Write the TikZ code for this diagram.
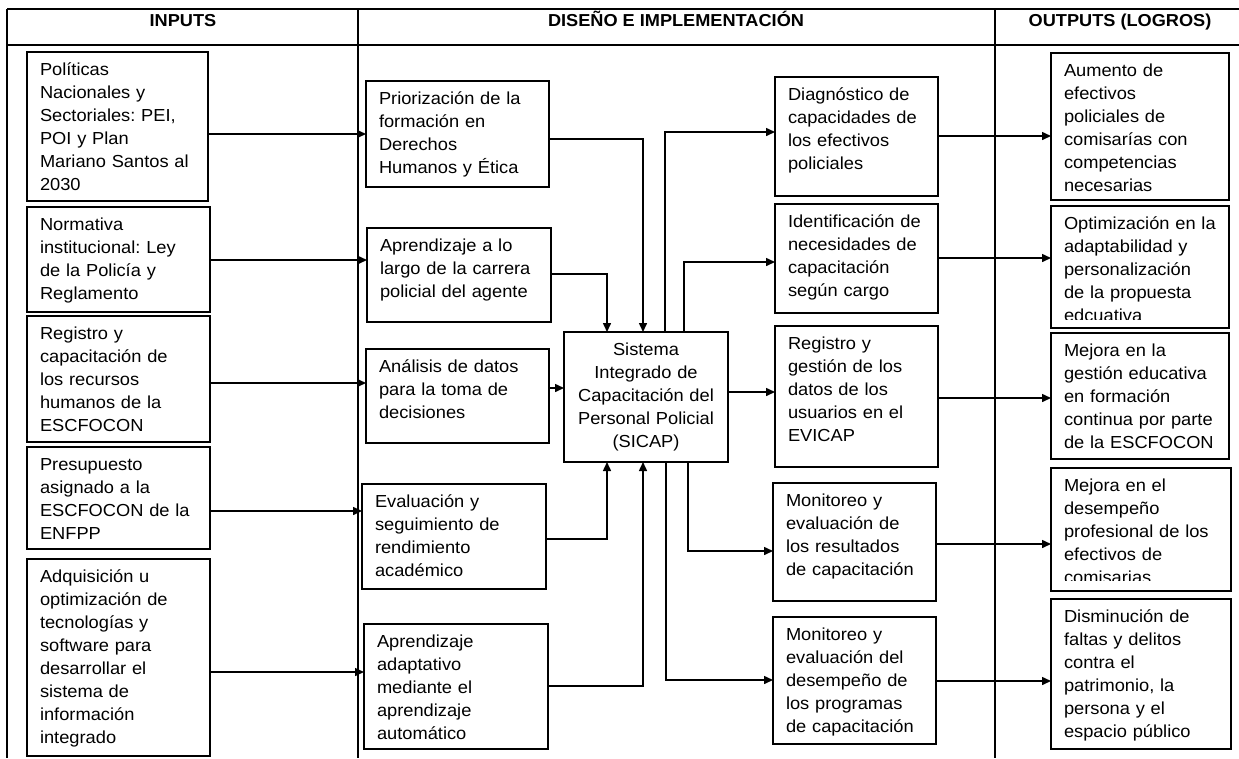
\documentclass[tikz,border=0pt]{standalone}
\usepackage{fontspec}
\setmainfont{Liberation Sans}[FakeStretch=1.05]
\usetikzlibrary{arrows.meta}
\frenchspacing
\tikzset{
  box/.style={draw=black, line width=1.6pt, inner sep=0pt, outer sep=0pt, fill=none},
  txt/.style={anchor=base west, align=left, text width=200pt, inner sep=0pt, outer sep=0pt,
              font=\frenchspacing\fontsize{17.4}{23}\selectfont, text=black},
  head/.style={anchor=base, inner sep=0pt, font=\bfseries\fontsize{17.3}{20}\selectfont, text=black},
  frame/.style={line width=1.8pt, draw=black},
  arr/.style={line width=1.5pt, -{Triangle[length=9pt,width=8pt]}},
}
\newcommand\mybox[6]{%
  \node[box, anchor=north west, minimum width={(#4-#2)*1pt}, minimum height={(#5-#3)*1pt}] (#1) at (#2,#3) {};
  \node[txt] (#1t) at ([xshift=13pt,yshift=-23pt]#1.north west) {#6};
}
\newcommand\myclipbox[7]{%
  \node[box, anchor=north west, minimum width={(#4-#2)*1pt}, minimum height={(#5-#3)*1pt}] (#1) at (#2,#3) {};
  \begin{scope}
    \clip (#2,#3) rectangle (#4,{#5-#7});
    \node[txt] (#1t) at ([xshift=13pt,yshift=-23pt]#1.north west) {#6};
  \end{scope}
}
\begin{document}
\begin{tikzpicture}[x=1pt,y=-1pt]
\useasboundingbox (0,0) rectangle (1239,758);
% frame
\coordinate (ftl) at (7,9);
\coordinate (ftr) at (1239,9);
\coordinate (fhl) at (7,45);
\coordinate (fhr) at (1239,45);
\coordinate (fbl) at (7,758);
\coordinate (d1t) at (358,9);
\coordinate (d1b) at (358,758);
\coordinate (d2t) at (995,9);
\coordinate (d2b) at (995,758);
\draw[frame] (ftl) -- (ftr);
\draw[frame] (fhl) -- (fhr);
\draw[frame] (ftl) -- (fbl);
\draw[frame] (d1t) -- (d1b);
\draw[frame] (d2t) -- (d2b);
% headers
\node[head] (h1) at (183,26) {INPUTS};
\node[head] (h2) at (676,26) {DISEÑO E IMPLEMENTACIÓN};
\node[head] (h3) at (1120,26) {OUTPUTS (LOGROS)};
% inputs
\mybox{L1}{27}{52}{208}{201}{Políticas\\Nacionales y\\Sectoriales: PEI,\\POI y Plan\\Mariano Santos al\\2030}
\mybox{L2}{27}{207}{210}{312}{Normativa\\institucional: Ley\\de la Policía y\\Reglamento}
\mybox{L3}{27}{316}{210}{442}{Registro y\\capacitación de\\los recursos\\humanos de la\\ESCFOCON}
\mybox{L4}{27}{447}{210}{549}{Presupuesto\\asignado a la\\ESCFOCON de la\\ENFPP}
\mybox{L5}{27}{559}{210}{756}{Adquisición u\\optimización de\\tecnologías y\\software para\\desarrollar el\\sistema de\\información\\integrado}
% design
\mybox{P1}{366}{81}{549}{187}{Priorización de la\\formación en\\Derechos\\Humanos y Ética}
\mybox{P2}{367}{228}{551}{322}{Aprendizaje a lo\\largo de la carrera\\policial del agente}
\mybox{P3}{366}{349}{549}{443}{Análisis de datos\\para la toma de\\decisiones}
\mybox{P4}{362}{484}{546}{589}{Evaluación y\\seguimiento de\\rendimiento\\académico}
\mybox{P5}{364}{624}{548}{749}{Aprendizaje\\adaptativo\\mediante el\\aprendizaje\\automático}
\node[box, anchor=north west, minimum width=164pt, minimum height=130pt] (S) at (564,332) {};
\node[txt, anchor=base, align=center, text width=170pt] (St) at ([yshift=-23pt]S.north) {Sistema\\Integrado de\\Capacitación del\\Personal Policial\\(SICAP)};
\mybox{D1}{775}{77}{938}{196}{Diagnóstico de\\capacidades de\\los efectivos\\policiales}
\mybox{D2}{775}{204}{938}{313}{Identificación de\\necesidades de\\capacitación\\según cargo}
\mybox{D3}{775}{326}{938}{467}{Registro y\\gestión de los\\datos de los\\usuarios en el\\EVICAP}
\mybox{D4}{773}{483}{936}{601}{Monitoreo y\\evaluación de\\los resultados\\de capacitación}
\mybox{D5}{773}{617}{936}{744}{Monitoreo y\\evaluación del\\desempeño de\\los programas\\de capacitación}
% outputs
\mybox{O1}{1051}{53}{1229}{200}{Aumento de\\efectivos\\policiales de\\comisarías con\\competencias\\necesarias}
\myclipbox{O2}{1051}{206}{1229}{328}{Optimización en la\\adaptabilidad y\\personalización\\de la propuesta\\edcuativa}{9}
\mybox{O3}{1051}{333}{1229}{459}{Mejora en la\\gestión educativa\\en formación\\continua por parte\\de la ESCFOCON}
\myclipbox{O4}{1051}{468}{1231}{591}{Mejora en el\\desempeño\\profesional de los\\efectivos de\\comisarias}{11}
\mybox{O5}{1051}{599}{1231}{749}{Disminución de\\faltas y delitos\\contra el\\patrimonio, la\\persona y el\\espacio público}
% inputs -> design
\draw[arr] (L1.east |- 0,134) -- (P1.west |- 0,134);
\draw[arr] (L2.east |- 0,260) -- (P2.west |- 0,260);
\draw[arr] (L3.east |- 0,383) -- (P3.west |- 0,383);
\draw[arr] (L4.east |- 0,511) -- (P4.west |- 0,511);
\draw[arr] (L5.east |- 0,672) -- (P5.west |- 0,672);
% design -> SICAP
\draw[arr] (P1.east |- 0,139) -| (S.north -| 643,0);
\draw[arr] (P2.east |- 0,274) -| (S.north -| 607,0);
\draw[arr] (P3.east |- 0,388) -- (S.west |- 0,388);
\draw[arr] (P4.east |- 0,539) -| (S.south -| 607,0);
\draw[arr] (P5.east |- 0,686) -| (S.south -| 643,0);
% SICAP -> design
\draw[arr] (S.north -| 665,0) |- (D1.west |- 0,132);
\draw[arr] (S.north -| 684,0) |- (D2.west |- 0,262);
\draw[arr] (S.east |- 0,392) -- (D3.west |- 0,392);
\draw[arr] (S.south -| 688,0) |- (D4.west |- 0,551);
\draw[arr] (S.south -| 666,0) |- (D5.west |- 0,680);
% design -> outputs
\draw[arr] (D1.east |- 0,136) -- (O1.west |- 0,136);
\draw[arr] (D2.east |- 0,258) -- (O2.west |- 0,258);
\draw[arr] (D3.east |- 0,398) -- (O3.west |- 0,398);
\draw[arr] (D4.east |- 0,544) -- (O4.west |- 0,544);
\draw[arr] (D5.east |- 0,681) -- (O5.west |- 0,681);
\end{tikzpicture}
\end{document}
